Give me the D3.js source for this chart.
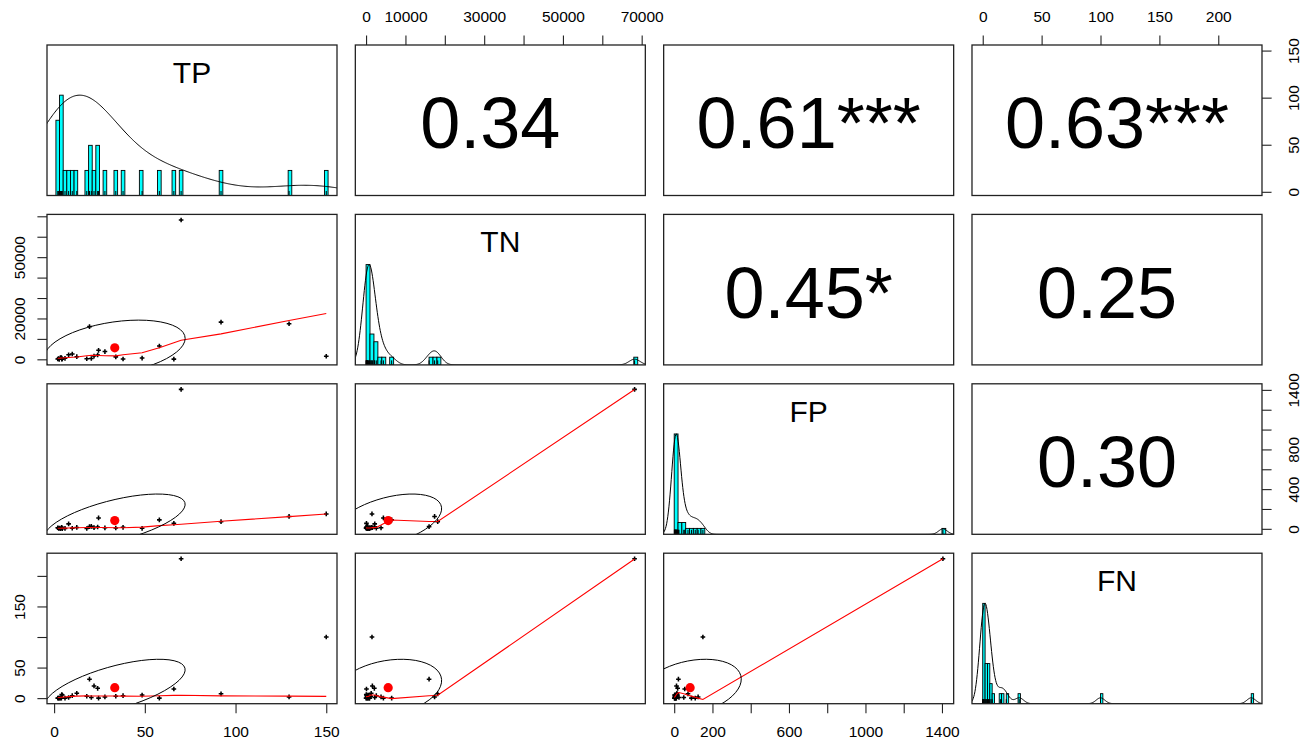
<!DOCTYPE html>
<html><head><meta charset="utf-8">
<script src="https://cdn.jsdelivr.net/npm/d3@7/dist/d3.min.js"></script>
<style>
body{margin:0;background:#fff}
svg text{font-family:"Liberation Sans",Arial,sans-serif;fill:#000}
</style></head><body>
<svg id="chart" width="1310" height="744"></svg>
<script>
// ---------------- data ----------------
const varNames = ["TP", "TN", "FP", "FN"];
const TP = [70, 150, 129.5, 92, 66, 58, 48.5, 38, 34, 28, 24.5, 24, 22, 20.5, 19.5, 18, 12.5, 10, 8, 6, 4.5, 4, 4.2, 3.5, 2.8, 2.5, 2];
const TN = [68200, 1500, 17400, 18200, 100, 6500, 600, 150, 1200, 3800, 4400, 2100, 1600, 400, 16000, 300, 1300, 2600, 2200, 500, 250, 800, 50, 900, 0, 400, 150];
const FP = [1405, 150, 125, 72, 55, 90, 5, 15, 8, 10, 110, 18, 12, 25, 22, 3, 14, 6, 50, 4, 2, 9, 16, 1, 7, 3, 11];
const FN = [228, 100, 2, 7, 15, 0, 5, 4, 3, 2, 0, 16, 20, 1, 31, 3, 8, 4, 1, 0, 5, 0, 6, 0, 0, 0, 0];

// correlations for pairs (TP,TN),(TP,FP),(TP,FN),(TN,FP),(TN,FN),(FP,FN)
const corrValues = [0.34, 0.61, 0.63, 0.45, 0.25, 0.30];
const corrStars = [" ", "***", "***", "*", " ", " "];

// histogram bin settings
const binWidths = [2, 1000, 20, 2];
const binStarts = [1, 0, 0, 0];

// tick values and shown tick labels
const ticksTP = [0, 50, 100, 150];
const ticksTN = [0, 10000, 20000, 30000, 40000, 50000, 60000, 70000];
const ticksFP = [0, 200, 400, 600, 800, 1000, 1200, 1400];
const ticksFN = [0, 50, 100, 150, 200];
const labelsTPbottom = [0, 50, 100, 150];
const labelsTNtop = [0, 10000, 30000, 50000, 70000];
const labelsFPbottom = [0, 200, 600, 1000, 1400];
const labelsFNtop = [0, 50, 100, 150, 200];
const labelsTPright = [0, 50, 100, 150];
const labelsTNleft = [0, 20000, 50000];
const labelsFPright = [0, 400, 800, 1400];
const labelsFNleft = [0, 50, 150];

// ---------------- layout ----------------
const vars = [TP, TN, FP, FN];
const W = 290, H = 150.5;
const colX = j => 47 + j * 308.33;
const rowY = i => 45 + i * 169.4;
const svg = d3.select("#chart");

function ext(a) { const mn = d3.min(a), mx = d3.max(a), r = mx - mn; return [mn - 0.04 * r, mx + 0.04 * r]; }
const xS = vars.map((v, j) => d3.scaleLinear().domain(ext(v)).range([colX(j), colX(j) + W]));
const yS = vars.map((v, i) => d3.scaleLinear().domain(ext(v)).range([rowY(i) + H, rowY(i)]));

const defs = svg.append("defs");
for (let i = 0; i < 4; i++) for (let j = 0; j < 4; j++) {
  defs.append("clipPath").attr("id", `clip${i}${j}`).append("rect")
    .attr("x", colX(j)).attr("y", rowY(i)).attr("width", W).attr("height", H);
}

// ---------------- lowess (port of R clowess) ----------------
function lowest(x, y, n, xs, nleft, nright, w, userw, rw) {
  const range = x[n - 1] - x[0];
  const h = Math.max(xs - x[nleft], x[nright] - xs);
  const h9 = 0.999 * h, h1 = 0.001 * h;
  let a = 0, j = nleft;
  while (j <= n - 1) {
    w[j] = 0;
    const r = Math.abs(x[j] - xs);
    if (r <= h9) {
      if (r <= h1) w[j] = 1; else w[j] = Math.pow(1 - Math.pow(r / h, 3), 3);
      if (userw) w[j] *= rw[j];
      a += w[j];
    } else if (x[j] > xs) break;
    j++;
  }
  const nrt = j - 1;
  if (a <= 0) return { ok: false };
  for (j = nleft; j <= nrt; j++) w[j] /= a;
  if (h > 0) {
    a = 0;
    for (j = nleft; j <= nrt; j++) a += w[j] * x[j];
    let b = xs - a, c = 0;
    for (j = nleft; j <= nrt; j++) c += w[j] * (x[j] - a) * (x[j] - a);
    if (Math.sqrt(c) > 0.001 * range) {
      b /= c;
      for (j = nleft; j <= nrt; j++) w[j] *= (b * (x[j] - a) + 1);
    }
  }
  let ys = 0;
  for (j = nleft; j <= nrt; j++) ys += w[j] * y[j];
  return { ok: true, ys };
}
function lowess(xIn, yIn, f = 2 / 3, iter = 3) {
  const idx = d3.range(xIn.length).sort((a, b) => (xIn[a] - xIn[b]) || (a - b));
  const x = idx.map(i => xIn[i]), y = idx.map(i => yIn[i]);
  const n = x.length;
  const delta = 0.01 * (x[n - 1] - x[0]);
  const ys = new Array(n).fill(0), rw = new Array(n).fill(0), res = new Array(n).fill(0);
  const ns = Math.max(2, Math.min(n, Math.floor(f * n + 1e-7)));
  for (let iiter = 1; iiter <= iter + 1; iiter++) {
    let nleft = 0, nright = ns - 1, last = -1, i = 0;
    for (;;) {
      if (nright < n - 1) {
        const d1 = x[i] - x[nleft], d2 = x[nright + 1] - x[i];
        if (d1 > d2) { nleft++; nright++; continue; }
      }
      const r = lowest(x, y, n, x[i], nleft, nright, res, iiter > 1, rw);
      ys[i] = r.ok ? r.ys : y[i];
      if (last < i - 1) {
        const denom = x[i] - x[last];
        for (let j = last + 1; j < i; j++) { const al = (x[j] - x[last]) / denom; ys[j] = al * ys[i] + (1 - al) * ys[last]; }
      }
      last = i;
      const cut = x[last] + delta;
      for (i = last + 1; i < n; i++) {
        if (x[i] > cut) break;
        if (x[i] === x[last]) { ys[i] = ys[last]; last = i; }
      }
      i = Math.max(last + 1, i - 1);
      if (last >= n - 1) break;
    }
    for (let k = 0; k < n; k++) res[k] = y[k] - ys[k];
    let sc = 0; for (let k = 0; k < n; k++) sc += Math.abs(res[k]); sc /= n;
    if (iiter > iter) break;
    for (let k = 0; k < n; k++) rw[k] = Math.abs(res[k]);
    const srt = rw.slice().sort((a, b) => a - b);
    const m1 = Math.floor(n / 2);
    const cmad = (n % 2 === 0) ? 3 * (srt[m1] + srt[n - m1 - 1]) : 6 * srt[m1];
    if (cmad < 1e-7 * sc) break;
    const c9 = 0.999 * cmad, c1 = 0.001 * cmad;
    for (let k = 0; k < n; k++) {
      const r = Math.abs(res[k]);
      rw[k] = r <= c1 ? 1 : (r <= c9 ? Math.pow(1 - Math.pow(r / cmad, 2), 2) : 0);
    }
  }
  return x.map((xv, k) => [xv, ys[k]]);
}

// ---------------- density (bw.nrd * 1.2) ----------------
function density(v) {
  const s = v.slice().sort(d3.ascending), n = s.length;
  const sd = d3.deviation(s);
  const iqr = d3.quantileSorted(s, 0.75) - d3.quantileSorted(s, 0.25);
  let lo = Math.min(sd, iqr / 1.34); if (!(lo > 0)) lo = sd;
  const bw = 1.06 * lo * Math.pow(n, -0.2) * 1.2;
  const from = s[0] - 3 * bw, to = s[n - 1] + 3 * bw;
  const pts = d3.range(512).map(k => {
    const g = from + (to - from) * k / 511; let d = 0;
    for (const xv of s) { const z = (g - xv) / bw; d += Math.exp(-0.5 * z * z); }
    return [g, d];
  });
  const mx = d3.max(pts, p => p[1]);
  return pts.map(p => [p[0], p[1] / mx]);
}

// ---------------- panels ----------------
const corrIndex = (i, j) => ({ "01": 0, "02": 1, "03": 2, "12": 3, "13": 4, "23": 5 })[`${i}${j}`];

for (let i = 0; i < 4; i++) for (let j = 0; j < 4; j++) {
  const g = svg.append("g");
  const cx = colX(j) + W / 2, cy = rowY(i) + H / 2;
  if (i === j) {
    const v = vars[i], x = xS[j];
    const hy = d3.scaleLinear().domain([0, 1.5]).range([rowY(i) + H, rowY(i)]);
    const gc = g.append("g").attr("clip-path", `url(#clip${i}${j})`);
    const bw = binWidths[i], b0 = binStarts[i];
    const nb = Math.ceil((d3.max(v) - b0) / bw) + 1;
    const th = d3.range(nb + 1).map(k => b0 + k * bw);
    const bins = d3.bin().domain([b0, th[th.length - 1]]).thresholds(th.slice(1, -1))(v).filter(b => b.length > 0);
    const maxC = d3.max(bins, b => b.length);
    gc.selectAll("rect.bar").data(bins).join("rect").attr("class", "bar")
      .attr("x", b => x(b.x0)).attr("width", b => x(b.x1) - x(b.x0))
      .attr("y", b => hy(b.length / maxC)).attr("height", b => hy(0) - hy(b.length / maxC))
      .attr("fill", "#00FFFF").attr("stroke", "#000").attr("stroke-width", 0.9);
    const dens = density(v);
    gc.append("path").attr("d", d3.line().x(d => x(d[0])).y(d => hy(d[1]))(dens))
      .attr("fill", "none").attr("stroke", "#000").attr("stroke-width", 1);
    gc.selectAll("line.rug").data(v).join("line").attr("class", "rug")
      .attr("x1", d => x(d)).attr("x2", d => x(d))
      .attr("y1", rowY(i) + H).attr("y2", rowY(i) + H - 0.03 * H)
      .attr("stroke", "#000").attr("stroke-width", 1);
    g.append("text").attr("x", cx).attr("y", rowY(i) + 38).attr("text-anchor", "middle")
      .attr("font-size", 30).text(varNames[i]);
  } else if (i < j) {
    const k = corrIndex(i, j);
    const txt = corrValues[k].toFixed(2) + corrStars[k].replace(/ /g, "\u00A0");
    g.append("text").attr("x", cx).attr("y", cy + 28).attr("text-anchor", "middle")
      .attr("font-size", 72).style("white-space", "pre").text(txt);
  } else {
    const xv = vars[j], yv = vars[i], x = xS[j], y = yS[i];
    const gc = g.append("g").attr("clip-path", `url(#clip${i}${j})`);
    gc.selectAll("path.pt").data(d3.range(xv.length)).join("path").attr("class", "pt")
      .attr("transform", k => `translate(${x(xv[k])},${y(yv[k])})`)
      .attr("d", d3.symbol(d3.symbolCross, 12)).attr("fill", "#000");
    const lw = lowess(xv, yv);
    gc.append("path").attr("d", d3.line().x(d => x(d[0])).y(d => y(d[1]))(lw))
      .attr("fill", "none").attr("stroke", "#FF0000").attr("stroke-width", 1.1);
    const xm = d3.mean(xv), ym = d3.mean(yv), xs = d3.deviation(xv), ys = d3.deviation(yv);
    const r = corrValues[corrIndex(j, i)];
    const th = Math.sign(r || 1) / Math.SQRT2;
    const ell = d3.range(52).map(s => {
      const a = s * 2 * Math.PI / 51, c = Math.cos(a), sn = Math.sin(a);
      const ex = c * Math.sqrt(1 + r) * th - sn * Math.sqrt(1 - r) * th;
      const ey = c * Math.sqrt(1 + r) * th + sn * Math.sqrt(1 - r) * th;
      return [ex * xs + xm, ey * ys + ym];
    });
    gc.append("circle").attr("cx", x(xm)).attr("cy", y(ym)).attr("r", 4.6).attr("fill", "#FF0000");
    gc.append("path").attr("d", d3.line().x(d => x(d[0])).y(d => y(d[1]))(ell))
      .attr("fill", "none").attr("stroke", "#000").attr("stroke-width", 1);
  }
  g.append("rect").attr("x", colX(j)).attr("y", rowY(i)).attr("width", W).attr("height", H)
    .attr("fill", "none").attr("stroke", "#222").attr("stroke-width", 1.3);
}

// ---------------- axes ----------------
const axisSpecs = [
  { side: "bottom", v: 0, ticks: ticksTP, labels: labelsTPbottom },
  { side: "top", v: 1, ticks: ticksTN, labels: labelsTNtop },
  { side: "bottom", v: 2, ticks: ticksFP, labels: labelsFPbottom },
  { side: "top", v: 3, ticks: ticksFN, labels: labelsFNtop },
  { side: "right", v: 0, ticks: ticksTP, labels: labelsTPright },
  { side: "left", v: 1, ticks: ticksTN, labels: labelsTNleft },
  { side: "right", v: 2, ticks: ticksFP, labels: labelsFPright },
  { side: "left", v: 3, ticks: ticksFN, labels: labelsFNleft }
];
for (const a of axisSpecs) {
  const fmt = d => a.labels.includes(d) ? String(d) : "";
  let ax, tr;
  if (a.side === "bottom") { ax = d3.axisBottom(xS[a.v]); tr = `translate(0,${rowY(3) + H})`; }
  if (a.side === "top") { ax = d3.axisTop(xS[a.v]); tr = `translate(0,${rowY(0)})`; }
  if (a.side === "left") { ax = d3.axisLeft(yS[a.v]); tr = `translate(${colX(0)},0)`; }
  if (a.side === "right") { ax = d3.axisRight(yS[a.v]); tr = `translate(${colX(3) + W},0)`; }
  ax.tickValues(a.ticks).tickFormat(fmt).tickSize(9.6);
  const g = svg.append("g").attr("transform", tr).call(ax);
  g.select(".domain").remove();
  g.selectAll(".tick line").attr("stroke", "#222").attr("stroke-width", 1.1);
  const t = g.selectAll(".tick text").attr("font-size", 15.5)
    .attr("font-family", '"Liberation Sans",Arial,sans-serif').attr("fill", "#111");
  if (a.side === "bottom") t.attr("y", 33.4).attr("dy", 0);
  if (a.side === "top") t.attr("y", -23.3).attr("dy", 0);
  if (a.side === "left") t.attr("transform", "rotate(-90)").attr("x", 0).attr("y", -22).attr("dy", 0).attr("text-anchor", "middle");
  if (a.side === "right") t.attr("transform", "rotate(-90)").attr("x", 0).attr("y", 36.6).attr("dy", 0).attr("text-anchor", "middle");
}
</script>
</body></html>
